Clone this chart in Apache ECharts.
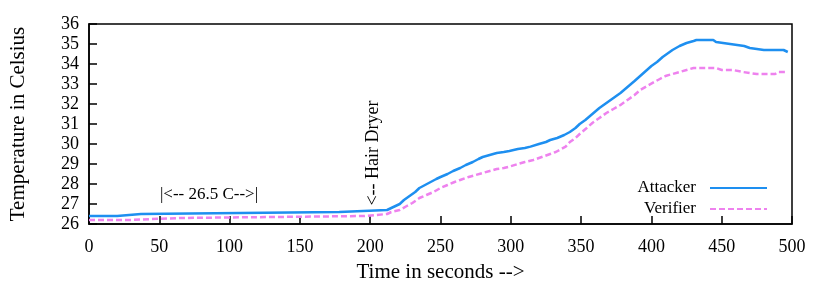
<!DOCTYPE html>
<html><head><meta charset="utf-8">
<script src="https://cdn.jsdelivr.net/npm/echarts@6/dist/echarts.min.js"></script>
<style>html,body{margin:0;padding:0;background:#fff}#c{width:830px;height:291px}</style>
</head><body><div id="c"></div>
<script>
var attackerT = [0,20,20,37,37,178,178,212,215,218,221,224,228,232,235,239,243,247,250,255,259,264,268,273,277,280,285,290,295,299,305,310,314,320,325,328,333,338,342,346,349,353,358,363,368,373,378,383,388,392,396,400,404,408,412,415,420,425,430,432,444,446,456,466,470,480,494,497];
var attackerV = [26.4,26.4,26.5,26.5,26.6,26.6,26.7,26.7,26.8,26.9,27.0,27.2,27.4,27.6,27.8,27.95,28.1,28.25,28.35,28.5,28.65,28.8,28.95,29.1,29.25,29.35,29.45,29.55,29.6,29.65,29.75,29.8,29.87,30.0,30.1,30.2,30.3,30.45,30.6,30.8,31.0,31.2,31.5,31.8,32.05,32.3,32.55,32.85,33.15,33.4,33.65,33.9,34.1,34.35,34.55,34.7,34.9,35.05,35.15,35.2,35.2,35.1,35.0,34.9,34.8,34.7,34.7,34.6];
var verifierT = [0,28,28,65,65,196,196,212,215,221,226,230,235,240,245,250,255,260,264,270,275,280,285,290,295,299,305,310,316,322,328,332,336,339,342,346,349,354,358,363,368,373,378,383,388,392,397,402,406,410,415,420,425,430,446,450,458,465,475,488,490,497];
var verifierV = [26.2,26.2,26.3,26.3,26.4,26.4,26.5,26.5,26.6,26.7,26.9,27.05,27.3,27.45,27.6,27.8,27.95,28.1,28.2,28.35,28.45,28.55,28.65,28.75,28.8,28.87,29.0,29.1,29.2,29.35,29.5,29.6,29.75,29.87,30.1,30.3,30.5,30.8,31.05,31.3,31.55,31.75,31.95,32.2,32.45,32.7,32.9,33.1,33.25,33.4,33.5,33.6,33.7,33.8,33.8,33.7,33.7,33.6,33.5,33.5,33.6,33.6];
var seriesNames = ['Attacker','Verifier'];
var xTitle = 'Time in seconds -->';
var yTitle = 'Temperature in Celsius';
var noteRange = '|<-- 26.5 C-->|';
var noteDryer = '<-- Hair Dryer';

function zip(t, v){ return t.map(function(x,i){ return [x, v[i]]; }); }
var font = 'Liberation Serif, Times New Roman, serif';
var chart = echarts.init(document.getElementById('c'), null, {renderer:'canvas'});
chart.setOption({
  animation:false,
  backgroundColor:'#fff',
  grid:{left:89,right:38,top:24,bottom:67,containLabel:false,outerBoundsMode:'none',show:true,borderColor:'#000',borderWidth:1.5,backgroundColor:'transparent'},
  xAxis:{type:'value',min:0,max:500,interval:50,
    name:xTitle,nameLocation:'middle',nameGap:38,
    nameTextStyle:{fontFamily:font,fontSize:21,color:'#000'},
    axisLine:{lineStyle:{color:'#000',width:1.5}},
    axisTick:{inside:true,length:8,lineStyle:{color:'#000',width:1.5}},
    axisLabel:{fontFamily:font,fontSize:18,color:'#000',margin:14},
    splitLine:{show:false}},
  yAxis:{type:'value',min:26,max:36,interval:1,
    name:yTitle,nameLocation:'middle',nameGap:60,
    nameTextStyle:{fontFamily:font,fontSize:21,color:'#000'},
    axisLine:{lineStyle:{color:'#000',width:1.5}},
    axisTick:{inside:true,length:8,lineStyle:{color:'#000',width:1.5}},
    axisLabel:{fontFamily:font,fontSize:18,color:'#000',margin:10},
    splitLine:{show:false}},
  legend:{orient:'vertical',right:57,top:174,align:'right',itemWidth:57,itemHeight:18,itemGap:3,
    itemStyle:{opacity:0},
    textStyle:{fontFamily:font,fontSize:17,color:'#000',lineHeight:18,padding:[0,9,0,0]},
    data:seriesNames},
  series:[
    {name:seriesNames[0],type:'line',symbol:'none',data:zip(attackerT,attackerV),
     lineStyle:{color:'#1E8FF0',width:2.5},itemStyle:{color:'#1E8FF0'}},
    {name:seriesNames[1],type:'line',symbol:'none',data:zip(verifierT,verifierV),
     lineStyle:{color:'#EE82EE',width:2.5,type:[6,3]},itemStyle:{color:'#EE82EE'}}
  ],
  graphic:[
    {type:'text',x:209,y:195,style:{text:noteRange,fontFamily:font,fontSize:17,fill:'#000',align:'center',verticalAlign:'middle'}},
    {type:'text',x:373,y:153,rotation:Math.PI/2,style:{text:noteDryer,fontFamily:font,fontSize:18,fill:'#000',align:'center',verticalAlign:'middle'}}
  ]
});
</script></body></html>
